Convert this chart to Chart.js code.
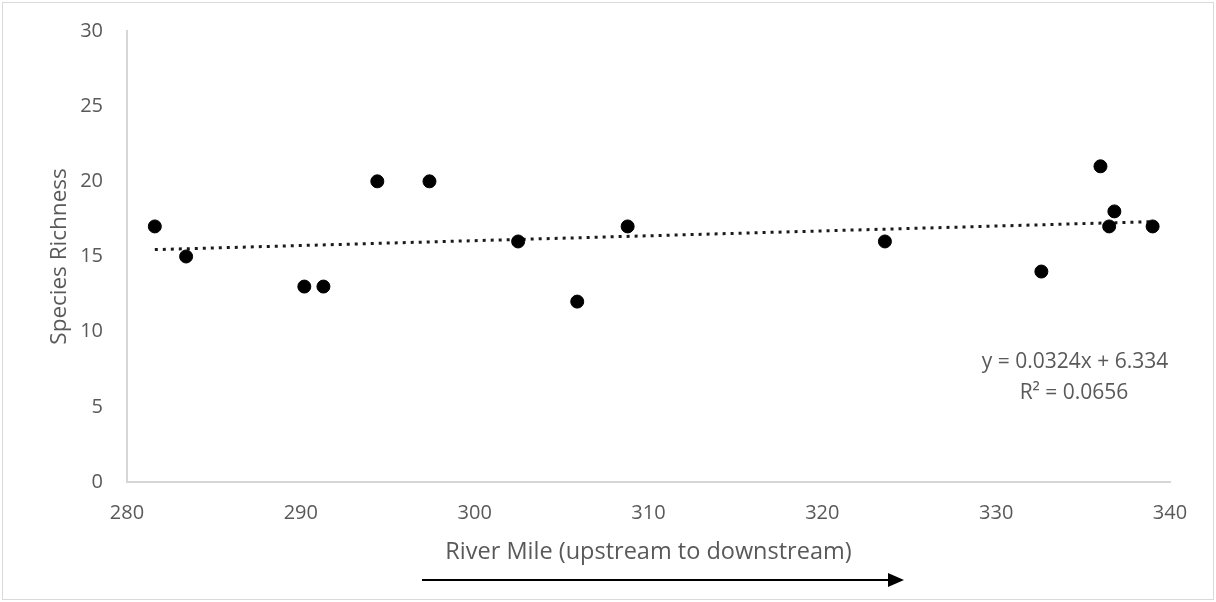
<!DOCTYPE html>
<html lang="en">
<head>
    <meta charset="UTF-8" />
    <title>Species Richness by River Mile</title>
    <script src="https://cdn.jsdelivr.net/npm/chart.js"></script>
    <style>
        html, body { margin: 0; padding: 0; background: #fff; }
        .wrap { position: relative; width: 1216px; height: 602px; }
        .frame { position: absolute; left: 2px; top: 2px; width: 1210px; height: 596px; border: 1px solid #d9d9d9; }
        canvas { position: absolute; left: 0; top: 0; }
        .arrow { position: absolute; left: 0; top: 0; }
    </style>
</head>
<body>
<div class="wrap">
    <div class="frame"></div>
    <canvas id="richnessChart" width="1216" height="602"></canvas>
    <!-- direction arrow under the x axis title -->
    <svg class="arrow" width="1216" height="602">
        <line x1="422" y1="580" x2="888" y2="580" stroke="#000" stroke-width="2" />
        <polygon points="888,573 904,580 888,587" fill="#000" />
    </svg>
</div>

<script>
// River mile of each sampling site and species richness found there
const riverMiles = [281.6, 283.4, 290.2, 291.3, 294.4, 297.4, 302.5, 305.9, 308.8, 323.6, 332.6, 336.0, 336.5, 336.8, 339.0];
const richness   = [17, 15, 13, 13, 20, 20, 16, 12, 17, 16, 14, 21, 17, 18, 17];

// Excel linear trendline as printed on the chart
const trendSlope = 0.0324;
const trendIntercept = 6.334;
const trendLabel = ['y = 0.0324x + 6.334', 'R\u00b2 = 0.0656'];

const xTicks = [280, 290, 300, 310, 320, 330, 340];
const yTicks = [0, 5, 10, 15, 20, 25, 30];

const textColor = '#595959';
const fontFamily = '"Open Sans", "Noto Sans", sans-serif';

const points = riverMiles.map((m, i) => ({ x: m, y: richness[i] }));
const xLo = Math.min(...riverMiles);
const xHi = Math.max(...riverMiles);
const trendPoints = [
    { x: xLo, y: trendSlope * xLo + trendIntercept },
    { x: xHi, y: trendSlope * xHi + trendIntercept }
];

// draws the trendline equation box
const equationPlugin = {
    id: 'equation',
    afterDraw(chart) {
        const ctx = chart.ctx;
        ctx.save();
        ctx.fillStyle = textColor;
        ctx.font = '21px ' + fontFamily;
        ctx.textAlign = 'center';
        ctx.textBaseline = 'middle';
        ctx.fillText(trendLabel[0], 1075, 362);
        ctx.fillText(trendLabel[1], 1074, 393);
        ctx.restore();
    }
};

const ctx = document.getElementById('richnessChart').getContext('2d');
new Chart(ctx, {
    type: 'scatter',
    data: {
        datasets: [
            {
                label: 'Species Richness',
                data: points,
                backgroundColor: '#000',
                borderColor: '#000',
                pointRadius: 6.5,
                pointHoverRadius: 6.5
            },
            {
                label: 'Trend',
                data: trendPoints,
                showLine: true,
                borderColor: '#1a1a1a',
                borderWidth: 3,
                borderDash: [3, 5],
                borderCapStyle: 'butt',
                pointRadius: 0,
                fill: false
            }
        ]
    },
    options: {
        responsive: false,
        animation: false,
        layout: { padding: { left: 0, right: 46, top: 31, bottom: 0 } },
        plugins: {
            legend: { display: false },
            tooltip: { enabled: false }
        },
        scales: {
            x: {
                type: 'linear',
                min: xTicks[0],
                max: xTicks[xTicks.length - 1],
                afterBuildTicks: (scale) => { scale.ticks = xTicks.map(v => ({ value: v })); },
                afterFit: (scale) => { scale.height = 120; },
                grid: { display: false },
                border: { display: true, color: '#d6d6d6', width: 2 },
                ticks: { color: textColor, font: { family: fontFamily, size: 20 }, padding: 11 },
                title: {
                    display: true,
                    text: 'River Mile (upstream to downstream)',
                    color: textColor,
                    font: { family: fontFamily, size: 23.5 },
                    padding: { top: 0, bottom: 36 }
                }
            },
            y: {
                type: 'linear',
                min: yTicks[0],
                max: yTicks[yTicks.length - 1],
                afterBuildTicks: (scale) => { scale.ticks = yTicks.map(v => ({ value: v })); },
                afterFit: (scale) => { scale.width = 127; },
                grid: { display: false },
                border: { display: true, color: '#d6d6d6', width: 2 },
                ticks: { color: textColor, font: { family: fontFamily, size: 20 }, padding: 16 },
                title: {
                    display: true,
                    text: 'Species Richness',
                    color: textColor,
                    font: { family: fontFamily, size: 22.5 },
                    padding: { top: 46, bottom: 0 }
                }
            }
        }
    },
    plugins: [equationPlugin]
});
</script>
</body>
</html>
